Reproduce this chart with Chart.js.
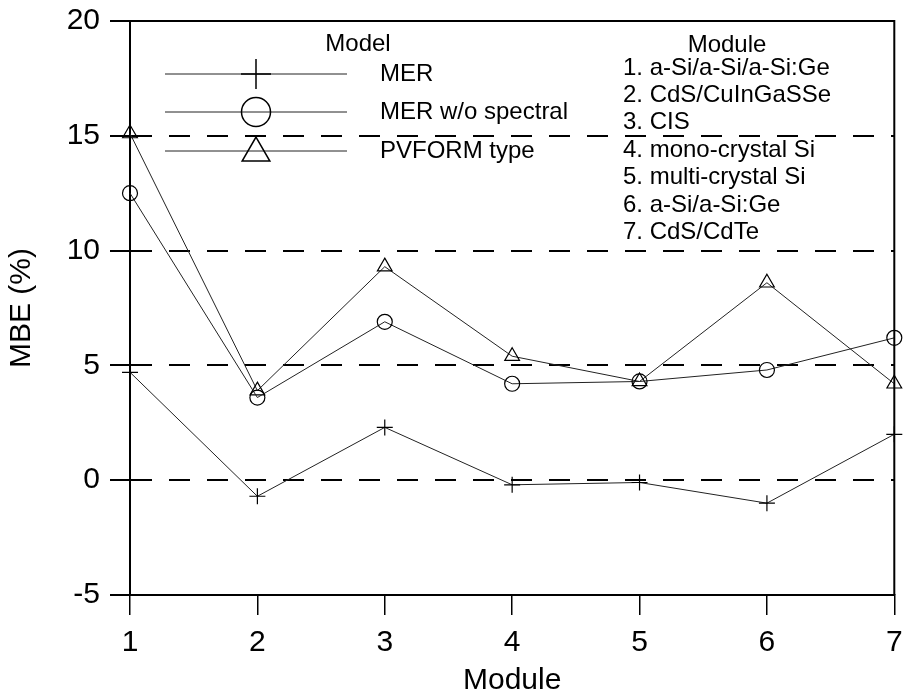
<!DOCTYPE html>
<html><head><meta charset="utf-8">
<script src="https://cdn.jsdelivr.net/npm/chart.js@4/dist/chart.umd.min.js"></script>
<style>html,body{margin:0;padding:0;background:#fff}</style>
</head><body>
<canvas id="c" width="904" height="696"></canvas>
<script>
const modules = ['1','2','3','4','5','6','7'];
const merValues = [4.7, -0.7, 2.3, -0.2, -0.1, -1.0, 2.0];
const merNoSpectralValues = [12.5, 3.6, 6.9, 4.2, 4.3, 4.8, 6.2];
const pvformValues = [15.1, 3.9, 9.3, 5.4, 4.3, 8.6, 4.2];
const yTickValues = [-5, 0, 5, 10, 15, 20];
const seriesNames = ['MER', 'MER w/o spectral', 'PVFORM type'];
const legendTitle = 'Model';
const moduleListTitle = 'Module';
const moduleNames = ['1. a-Si/a-Si/a-Si:Ge', '2. CdS/CuInGaSSe', '3. CIS', '4. mono-crystal Si', '5. multi-crystal Si', '6. a-Si/a-Si:Ge', '7. CdS/CdTe'];

const FONT = '"Liberation Sans", Arial, Helvetica, sans-serif';
const styles = ['cross', 'circle', 'triangle'];
const radii = [8, 7.5, 8.5];
const legendRadii = [15, 14.5, 16];
const allSeries = [merValues, merNoSpectralValues, pvformValues];

const datasets = allSeries.map((vals, i) => ({
  label: seriesNames[i],
  data: vals,
  borderColor: '#222',
  borderWidth: 1,
  pointStyle: styles[i],
  pointRadius: radii[i],
  pointBorderColor: '#000',
  pointBorderWidth: 1.2,
  pointBackgroundColor: 'rgba(0,0,0,0)',
  fill: false,
  tension: 0
}));

const framePlugin = {
  id: 'frame',
  afterDraw(chart) {
    const {ctx, chartArea: a} = chart;
    ctx.save();
    ctx.strokeStyle = '#000';
    ctx.lineWidth = 2;
    ctx.setLineDash([]);
    ctx.beginPath();
    ctx.moveTo(a.left - 20, a.top); ctx.lineTo(a.right, a.top); ctx.lineTo(a.right, a.bottom);
    ctx.moveTo(a.left - 20, a.bottom); ctx.lineTo(a.right, a.bottom);
    ctx.stroke();
    // legend
    ctx.fillStyle = '#000';
    ctx.font = '24px ' + FONT;
    ctx.textBaseline = 'middle';
    ctx.textAlign = 'center';
    ctx.fillText(legendTitle, 358, 44);
    const ly = [74, 112, 151];
    for (let i = 0; i < 3; i++) {
      ctx.strokeStyle = '#222';
      ctx.lineWidth = 1;
      ctx.beginPath();
      ctx.moveTo(165, ly[i]); ctx.lineTo(347, ly[i]);
      ctx.stroke();
      ctx.strokeStyle = '#000';
      ctx.fillStyle = 'rgba(0,0,0,0)';
      ctx.lineWidth = 1.5;
      Chart.helpers.drawPoint(ctx, {pointStyle: styles[i], radius: legendRadii[i], rotation: 0, borderWidth: 1.5}, 256, ly[i] + (i === 2 ? 2 : 0));
      ctx.fillStyle = '#000';
      ctx.textAlign = 'left';
      ctx.fillText(seriesNames[i], 380, ly[i]);
    }
    ctx.textAlign = 'center';
    ctx.fillText(moduleListTitle, 727, 45);
    ctx.textAlign = 'left';
    moduleNames.forEach((m, i) => ctx.fillText(m, 623, 68 + i * 27.4));
    ctx.restore();
  }
};

new Chart(document.getElementById('c'), {
  type: 'line',
  data: { labels: modules, datasets },
  options: {
    responsive: false,
    animation: false,
    layout: { padding: { top: 21, right: 7, bottom: 0, left: 0 } },
    plugins: { legend: { display: false }, tooltip: { enabled: false } },
    scales: {
      x: {
        type: 'category',
        offset: false,
        grid: { display: true, drawOnChartArea: false, drawTicks: true, tickLength: 20, color: '#000', lineWidth: 1.5 },
        border: { display: true, color: '#000', width: 2 },
        ticks: { color: '#000', padding: 10, font: { family: FONT, size: 30 }, maxRotation: 0 },
        title: { display: true, text: 'Module', color: '#000', font: { family: FONT, size: 30, lineHeight: 1 }, padding: { top: 0, bottom: 0 } },
        afterFit(s) { s.height = 101; s.paddingLeft = 0; s.paddingRight = 0; }
      },
      y: {
        min: -5, max: 20,
        afterBuildTicks(s) { s.ticks = yTickValues.map(v => ({ value: v })); },
        grid: { display: true, drawOnChartArea: true, drawTicks: true, tickLength: 20, color: '#000', lineWidth: 2, tickBorderDash: [] },
        border: { display: true, color: '#000', width: 2, dash: [21, 17] },
        ticks: { color: '#000', padding: 10, font: { family: FONT, size: 30 } },
        title: { display: true, text: 'MBE (%)', color: '#000', font: { family: FONT, size: 30 }, padding: { top: 4, bottom: 0 } },
        afterFit(s) { s.width = 130; s.paddingTop = 0; s.paddingBottom = 0; }
      }
    }
  },
  plugins: [framePlugin]
});
</script>
</body></html>
